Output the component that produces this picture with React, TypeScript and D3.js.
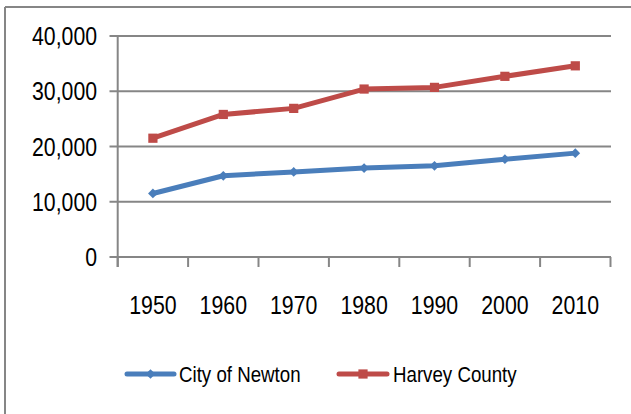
import React from 'react';
import * as d3 from 'd3';

const years = ['1950', '1960', '1970', '1980', '1990', '2000', '2010'];
const newton = [11500, 14700, 15400, 16100, 16500, 17700, 18800];
const harvey = [21500, 25800, 26900, 30400, 30700, 32700, 34600];
const yTicks = [0, 10000, 20000, 30000, 40000];

const W = 631;
const H = 414;
const grid = '#868686';
const blue = '#4A7EBB';
const red = '#BE4B48';
const font = '"Liberation Sans", Arial, sans-serif';

const App = () => {
  const x = d3.scaleBand<string>().domain(years).range([117.7, 610.5]);
  const y = d3.scaleLinear().domain([0, 40000]).range([257, 36]);
  const cx = (d: string) => (x(d) as number) + x.bandwidth() / 2;

  const line = d3
    .line<number>()
    .x((_, i) => cx(years[i]))
    .y((d) => y(d));

  const fmt = d3.format(',');
  const diamond = d3.symbol().type(d3.symbolDiamond2).size(60)();
  const square = d3.symbol().type(d3.symbolSquare).size(85)();

  // tick boundaries between categories
  const bounds = years.map((d) => x(d) as number).concat([x.range()[1]]);

  return (
    <svg
      width={W}
      height={H}
      style={{ position: 'absolute', left: 0, top: 0, background: '#fff' }}
    >
      {/* outer frame (only top & left visible) */}
      <line x1={5} y1={7} x2={W} y2={7} stroke={grid} strokeWidth={2} />
      <line x1={5} y1={7} x2={5} y2={H} stroke={grid} strokeWidth={2} />

      {/* gridlines */}
      {yTicks.map((t) => (
        <line key={t} x1={109.5} x2={611} y1={y(t)} y2={y(t)} stroke={grid} strokeWidth={2} />
      ))}
      <line x1={117.7} x2={117.7} y1={y(40000)} y2={y(0) + 10} stroke={grid} strokeWidth={2} />
      {bounds.map((b, i) => (
        <line key={i} x1={b} x2={b} y1={y(0)} y2={y(0) + 10} stroke={grid} strokeWidth={2} />
      ))}

      {/* y labels */}
      {yTicks.map((t) => (
        <text
          key={t}
          transform={`translate(97,${y(t) + 9}) scale(0.85,1)`}
          textAnchor="end"
          fontFamily={font}
          fontSize={25}
          fill="#000"
        >
          {fmt(t)}
        </text>
      ))}

      {/* x labels */}
      {years.map((d) => (
        <text
          key={d}
          transform={`translate(${cx(d)},314) scale(0.82,1)`}
          textAnchor="middle"
          fontFamily={font}
          fontSize={26}
          fill="#000"
        >
          {d}
        </text>
      ))}

      {/* series */}
      <path d={line(harvey) || ''} fill="none" stroke={red} strokeWidth={5} strokeLinejoin="round" />
      {harvey.map((v, i) => (
        <path key={i} d={square || ''} transform={`translate(${cx(years[i])},${y(v)})`} fill={red} />
      ))}
      <path d={line(newton) || ''} fill="none" stroke={blue} strokeWidth={5} strokeLinejoin="round" />
      {newton.map((v, i) => (
        <path key={i} d={diamond || ''} transform={`translate(${cx(years[i])},${y(v)})`} fill={blue} />
      ))}

      {/* legend */}
      <line x1={127} x2={174} y1={374} y2={374} stroke={blue} strokeWidth={5} strokeLinecap="round" />
      <path d={diamond || ''} transform="translate(150.5,374)" fill={blue} />
      <text transform="translate(179,382) scale(0.85,1)" fontFamily={font} fontSize={22} fill="#000">
        City of Newton
      </text>
      <line x1={339} x2={387} y1={374} y2={374} stroke={red} strokeWidth={5} strokeLinecap="round" />
      <path d={square || ''} transform="translate(363,374)" fill={red} />
      <text transform="translate(393,382) scale(0.85,1)" fontFamily={font} fontSize={22} fill="#000">
        Harvey County
      </text>
    </svg>
  );
};

export default App;
